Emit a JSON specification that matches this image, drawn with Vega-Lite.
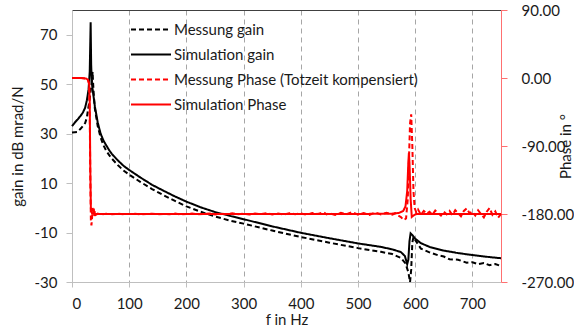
{
  "$schema": "https://vega.github.io/schema/vega-lite/v6.json",
  "width": 429,
  "height": 272,
  "autosize": {"type": "none"},
  "padding": {"left": 72, "top": 10, "right": 73, "bottom": 44},
  "background": "white",
  "config": {
    "view": {"stroke": null},
    "font": "Lato",
    "axis": {"labelFont": "Lato", "titleFont": "Lato", "labelColor": "#1a1a1a", "titleColor": "#1a1a1a", "labelFontSize": 15, "titleFontSize": 15, "titleFontWeight": "normal"},
    "legend": {
      "orient": "none", "legendX": 58, "legendY": 7, "symbolType": "stroke", "symbolSize": 1600,
      "symbolStrokeWidth": 2, "labelFontSize": 15, "labelFont": "Lato", "labelColor": "#1a1a1a",
      "labelOffset": 2, "rowPadding": 0, "clipHeight": 25, "labelLimit": 400
    }
  },
  "datasets": {
    "d": [
      {"s": "Simulation gain", "f": 0, "v": 33}, {"s": "Simulation gain", "f": 5, "v": 34.5}, {"s": "Simulation gain", "f": 10, "v": 35.8}, {"s": "Simulation gain", "f": 15, "v": 37.2}, {"s": "Simulation gain", "f": 19, "v": 38.5}, {"s": "Simulation gain", "f": 23, "v": 40.5}, {"s": "Simulation gain", "f": 26, "v": 43.5}, {"s": "Simulation gain", "f": 29, "v": 48}, {"s": "Simulation gain", "f": 31, "v": 55}, {"s": "Simulation gain", "f": 32.6, "v": 75}, {"s": "Simulation gain", "f": 33.5, "v": 58}, {"s": "Simulation gain", "f": 34.5, "v": 51}, {"s": "Simulation gain", "f": 36, "v": 48}, {"s": "Simulation gain", "f": 40, "v": 41}, {"s": "Simulation gain", "f": 45, "v": 34.5}, {"s": "Simulation gain", "f": 50, "v": 30}, {"s": "Simulation gain", "f": 55, "v": 27.2}, {"s": "Simulation gain", "f": 60, "v": 25.2}, {"s": "Simulation gain", "f": 65, "v": 23.3}, {"s": "Simulation gain", "f": 70, "v": 21.7}, {"s": "Simulation gain", "f": 80, "v": 19.2}, {"s": "Simulation gain", "f": 90, "v": 17}, {"s": "Simulation gain", "f": 100, "v": 15.3}, {"s": "Simulation gain", "f": 120, "v": 12.2}, {"s": "Simulation gain", "f": 140, "v": 9.3}, {"s": "Simulation gain", "f": 160, "v": 6.9}, {"s": "Simulation gain", "f": 180, "v": 4.6}, {"s": "Simulation gain", "f": 200, "v": 2.5}, {"s": "Simulation gain", "f": 225, "v": 0.2}, {"s": "Simulation gain", "f": 250, "v": -1.7}, {"s": "Simulation gain", "f": 275, "v": -3.2}, {"s": "Simulation gain", "f": 300, "v": -4.6}, {"s": "Simulation gain", "f": 350, "v": -7.5}, {"s": "Simulation gain", "f": 400, "v": -10.1}, {"s": "Simulation gain", "f": 450, "v": -12.3}, {"s": "Simulation gain", "f": 500, "v": -14.4}, {"s": "Simulation gain", "f": 540, "v": -15.8}, {"s": "Simulation gain", "f": 560, "v": -16.8}, {"s": "Simulation gain", "f": 575, "v": -17.9}, {"s": "Simulation gain", "f": 582, "v": -19.5}, {"s": "Simulation gain", "f": 586, "v": -22.8}, {"s": "Simulation gain", "f": 588, "v": -21}, {"s": "Simulation gain", "f": 590, "v": -13.5}, {"s": "Simulation gain", "f": 592, "v": -10.3}, {"s": "Simulation gain", "f": 595, "v": -11}, {"s": "Simulation gain", "f": 600, "v": -12.5}, {"s": "Simulation gain", "f": 610, "v": -14.3}, {"s": "Simulation gain", "f": 625, "v": -15.8}, {"s": "Simulation gain", "f": 650, "v": -17.3}, {"s": "Simulation gain", "f": 675, "v": -18.3}, {"s": "Simulation gain", "f": 700, "v": -19.1}, {"s": "Simulation gain", "f": 725, "v": -19.8}, {"s": "Simulation gain", "f": 750, "v": -20.4},

      {"s": "Messung gain", "f": 0, "v": 30.5}, {"s": "Messung gain", "f": 5, "v": 30.6}, {"s": "Messung gain", "f": 9, "v": 30.7}, {"s": "Messung gain", "f": 15, "v": 32}, {"s": "Messung gain", "f": 20, "v": 33.3}, {"s": "Messung gain", "f": 23, "v": 34.3}, {"s": "Messung gain", "f": 26, "v": 36.5}, {"s": "Messung gain", "f": 28, "v": 39.6}, {"s": "Messung gain", "f": 31, "v": 44}, {"s": "Messung gain", "f": 33, "v": 48}, {"s": "Messung gain", "f": 35, "v": 52}, {"s": "Messung gain", "f": 36, "v": 55}, {"s": "Messung gain", "f": 37, "v": 50}, {"s": "Messung gain", "f": 38, "v": 46}, {"s": "Messung gain", "f": 40, "v": 40}, {"s": "Messung gain", "f": 45, "v": 33}, {"s": "Messung gain", "f": 50, "v": 28.5}, {"s": "Messung gain", "f": 55, "v": 25.3}, {"s": "Messung gain", "f": 60, "v": 23}, {"s": "Messung gain", "f": 65, "v": 21.3}, {"s": "Messung gain", "f": 70, "v": 19.8}, {"s": "Messung gain", "f": 80, "v": 17.3}, {"s": "Messung gain", "f": 90, "v": 15.1}, {"s": "Messung gain", "f": 100, "v": 13.4}, {"s": "Messung gain", "f": 120, "v": 10.4}, {"s": "Messung gain", "f": 140, "v": 7.6}, {"s": "Messung gain", "f": 160, "v": 5.1}, {"s": "Messung gain", "f": 180, "v": 2.8}, {"s": "Messung gain", "f": 200, "v": 0.6}, {"s": "Messung gain", "f": 225, "v": -1.6}, {"s": "Messung gain", "f": 250, "v": -3.5}, {"s": "Messung gain", "f": 275, "v": -5.1}, {"s": "Messung gain", "f": 300, "v": -6.4}, {"s": "Messung gain", "f": 350, "v": -9.2}, {"s": "Messung gain", "f": 400, "v": -11.8}, {"s": "Messung gain", "f": 450, "v": -14.1}, {"s": "Messung gain", "f": 500, "v": -16.3}, {"s": "Messung gain", "f": 540, "v": -17.8}, {"s": "Messung gain", "f": 560, "v": -18.7}, {"s": "Messung gain", "f": 575, "v": -20.3}, {"s": "Messung gain", "f": 583, "v": -22.5}, {"s": "Messung gain", "f": 588, "v": -26}, {"s": "Messung gain", "f": 591, "v": -30}, {"s": "Messung gain", "f": 593, "v": -25}, {"s": "Messung gain", "f": 595, "v": -14}, {"s": "Messung gain", "f": 597, "v": -11.8}, {"s": "Messung gain", "f": 600, "v": -13}, {"s": "Messung gain", "f": 610, "v": -16.5}, {"s": "Messung gain", "f": 625, "v": -18}, {"s": "Messung gain", "f": 640, "v": -19.2}, {"s": "Messung gain", "f": 650, "v": -19.7}, {"s": "Messung gain", "f": 660, "v": -20.8}, {"s": "Messung gain", "f": 675, "v": -21}, {"s": "Messung gain", "f": 690, "v": -22.2}, {"s": "Messung gain", "f": 700, "v": -22}, {"s": "Messung gain", "f": 710, "v": -22.8}, {"s": "Messung gain", "f": 720, "v": -22.3}, {"s": "Messung gain", "f": 730, "v": -23.2}, {"s": "Messung gain", "f": 740, "v": -22.7}, {"s": "Messung gain", "f": 750, "v": -23.6},

      {"s": "Messung Phase (Totzeit kompensiert)", "f": 0, "v": 0}, {"s": "Messung Phase (Totzeit kompensiert)", "f": 10, "v": 0}, {"s": "Messung Phase (Totzeit kompensiert)", "f": 20, "v": -0.3}, {"s": "Messung Phase (Totzeit kompensiert)", "f": 25, "v": -1}, {"s": "Messung Phase (Totzeit kompensiert)", "f": 28, "v": -3}, {"s": "Messung Phase (Totzeit kompensiert)", "f": 30, "v": -8}, {"s": "Messung Phase (Totzeit kompensiert)", "f": 31, "v": -50}, {"s": "Messung Phase (Totzeit kompensiert)", "f": 32, "v": -130}, {"s": "Messung Phase (Totzeit kompensiert)", "f": 33, "v": -188}, {"s": "Messung Phase (Totzeit kompensiert)", "f": 34, "v": -195}, {"s": "Messung Phase (Totzeit kompensiert)", "f": 35, "v": -186}, {"s": "Messung Phase (Totzeit kompensiert)", "f": 36, "v": -172}, {"s": "Messung Phase (Totzeit kompensiert)", "f": 37, "v": -179}, {"s": "Messung Phase (Totzeit kompensiert)", "f": 38, "v": -171}, {"s": "Messung Phase (Totzeit kompensiert)", "f": 39, "v": -183}, {"s": "Messung Phase (Totzeit kompensiert)", "f": 40, "v": -176}, {"s": "Messung Phase (Totzeit kompensiert)", "f": 42, "v": -181}, {"s": "Messung Phase (Totzeit kompensiert)", "f": 45, "v": -179.5}, {"s": "Messung Phase (Totzeit kompensiert)", "f": 50, "v": -180.5}, {"s": "Messung Phase (Totzeit kompensiert)", "f": 60, "v": -179.8}, {"s": "Messung Phase (Totzeit kompensiert)", "f": 70, "v": -180.3}, {"s": "Messung Phase (Totzeit kompensiert)", "f": 80, "v": -179.7}, {"s": "Messung Phase (Totzeit kompensiert)", "f": 90, "v": -180.2}, {"s": "Messung Phase (Totzeit kompensiert)", "f": 100, "v": -180}, {"s": "Messung Phase (Totzeit kompensiert)", "f": 110, "v": -179.6}, {"s": "Messung Phase (Totzeit kompensiert)", "f": 120, "v": -180.4}, {"s": "Messung Phase (Totzeit kompensiert)", "f": 130, "v": -180}, {"s": "Messung Phase (Totzeit kompensiert)", "f": 140, "v": -179.7}, {"s": "Messung Phase (Totzeit kompensiert)", "f": 150, "v": -180.3}, {"s": "Messung Phase (Totzeit kompensiert)", "f": 160, "v": -179.9}, {"s": "Messung Phase (Totzeit kompensiert)", "f": 170, "v": -180.2}, {"s": "Messung Phase (Totzeit kompensiert)", "f": 180, "v": -179.5}, {"s": "Messung Phase (Totzeit kompensiert)", "f": 190, "v": -180.4}, {"s": "Messung Phase (Totzeit kompensiert)", "f": 200, "v": -180}, {"s": "Messung Phase (Totzeit kompensiert)", "f": 210, "v": -179.4}, {"s": "Messung Phase (Totzeit kompensiert)", "f": 220, "v": -180.5}, {"s": "Messung Phase (Totzeit kompensiert)", "f": 230, "v": -179.8}, {"s": "Messung Phase (Totzeit kompensiert)", "f": 240, "v": -179.2}, {"s": "Messung Phase (Totzeit kompensiert)", "f": 250, "v": -180.6}, {"s": "Messung Phase (Totzeit kompensiert)", "f": 260, "v": -179.5}, {"s": "Messung Phase (Totzeit kompensiert)", "f": 270, "v": -180.2}, {"s": "Messung Phase (Totzeit kompensiert)", "f": 280, "v": -179.1}, {"s": "Messung Phase (Totzeit kompensiert)", "f": 290, "v": -180.4}, {"s": "Messung Phase (Totzeit kompensiert)", "f": 300, "v": -179.6}, {"s": "Messung Phase (Totzeit kompensiert)", "f": 310, "v": -180.7}, {"s": "Messung Phase (Totzeit kompensiert)", "f": 320, "v": -179.2}, {"s": "Messung Phase (Totzeit kompensiert)", "f": 330, "v": -180.3}, {"s": "Messung Phase (Totzeit kompensiert)", "f": 340, "v": -178.9}, {"s": "Messung Phase (Totzeit kompensiert)", "f": 350, "v": -180.5}, {"s": "Messung Phase (Totzeit kompensiert)", "f": 360, "v": -179.4}, {"s": "Messung Phase (Totzeit kompensiert)", "f": 370, "v": -180.8}, {"s": "Messung Phase (Totzeit kompensiert)", "f": 380, "v": -179}, {"s": "Messung Phase (Totzeit kompensiert)", "f": 390, "v": -180.2}, {"s": "Messung Phase (Totzeit kompensiert)", "f": 400, "v": -179.3}, {"s": "Messung Phase (Totzeit kompensiert)", "f": 410, "v": -181}, {"s": "Messung Phase (Totzeit kompensiert)", "f": 420, "v": -178.8}, {"s": "Messung Phase (Totzeit kompensiert)", "f": 430, "v": -180.1}, {"s": "Messung Phase (Totzeit kompensiert)", "f": 440, "v": -177.8}, {"s": "Messung Phase (Totzeit kompensiert)", "f": 445, "v": -180.5}, {"s": "Messung Phase (Totzeit kompensiert)", "f": 450, "v": -179}, {"s": "Messung Phase (Totzeit kompensiert)", "f": 460, "v": -181.2}, {"s": "Messung Phase (Totzeit kompensiert)", "f": 470, "v": -178.5}, {"s": "Messung Phase (Totzeit kompensiert)", "f": 480, "v": -180.4}, {"s": "Messung Phase (Totzeit kompensiert)", "f": 490, "v": -177.5}, {"s": "Messung Phase (Totzeit kompensiert)", "f": 500, "v": -180.8}, {"s": "Messung Phase (Totzeit kompensiert)", "f": 510, "v": -178.6}, {"s": "Messung Phase (Totzeit kompensiert)", "f": 520, "v": -181.3}, {"s": "Messung Phase (Totzeit kompensiert)", "f": 530, "v": -177.9}, {"s": "Messung Phase (Totzeit kompensiert)", "f": 540, "v": -180.6}, {"s": "Messung Phase (Totzeit kompensiert)", "f": 550, "v": -178.4}, {"s": "Messung Phase (Totzeit kompensiert)", "f": 560, "v": -181}, {"s": "Messung Phase (Totzeit kompensiert)", "f": 565, "v": -179}, {"s": "Messung Phase (Totzeit kompensiert)", "f": 570, "v": -182}, {"s": "Messung Phase (Totzeit kompensiert)", "f": 575, "v": -184}, {"s": "Messung Phase (Totzeit kompensiert)", "f": 580, "v": -188}, {"s": "Messung Phase (Totzeit kompensiert)", "f": 584, "v": -186}, {"s": "Messung Phase (Totzeit kompensiert)", "f": 587, "v": -160}, {"s": "Messung Phase (Totzeit kompensiert)", "f": 589, "v": -110}, {"s": "Messung Phase (Totzeit kompensiert)", "f": 591, "v": -60}, {"s": "Messung Phase (Totzeit kompensiert)", "f": 593, "v": -48}, {"s": "Messung Phase (Totzeit kompensiert)", "f": 595, "v": -90}, {"s": "Messung Phase (Totzeit kompensiert)", "f": 597, "v": -150}, {"s": "Messung Phase (Totzeit kompensiert)", "f": 599, "v": -172}, {"s": "Messung Phase (Totzeit kompensiert)", "f": 602, "v": -178}, {"s": "Messung Phase (Totzeit kompensiert)", "f": 605, "v": -174}, {"s": "Messung Phase (Totzeit kompensiert)", "f": 610, "v": -181}, {"s": "Messung Phase (Totzeit kompensiert)", "f": 615, "v": -176}, {"s": "Messung Phase (Totzeit kompensiert)", "f": 620, "v": -179.5}, {"s": "Messung Phase (Totzeit kompensiert)", "f": 625, "v": -177}, {"s": "Messung Phase (Totzeit kompensiert)", "f": 630, "v": -181}, {"s": "Messung Phase (Totzeit kompensiert)", "f": 635, "v": -175.5}, {"s": "Messung Phase (Totzeit kompensiert)", "f": 640, "v": -179}, {"s": "Messung Phase (Totzeit kompensiert)", "f": 645, "v": -182}, {"s": "Messung Phase (Totzeit kompensiert)", "f": 650, "v": -177}, {"s": "Messung Phase (Totzeit kompensiert)", "f": 655, "v": -180.5}, {"s": "Messung Phase (Totzeit kompensiert)", "f": 660, "v": -176}, {"s": "Messung Phase (Totzeit kompensiert)", "f": 665, "v": -181.5}, {"s": "Messung Phase (Totzeit kompensiert)", "f": 670, "v": -175}, {"s": "Messung Phase (Totzeit kompensiert)", "f": 675, "v": -179}, {"s": "Messung Phase (Totzeit kompensiert)", "f": 680, "v": -183}, {"s": "Messung Phase (Totzeit kompensiert)", "f": 685, "v": -176}, {"s": "Messung Phase (Totzeit kompensiert)", "f": 690, "v": -172.5}, {"s": "Messung Phase (Totzeit kompensiert)", "f": 695, "v": -179}, {"s": "Messung Phase (Totzeit kompensiert)", "f": 700, "v": -177}, {"s": "Messung Phase (Totzeit kompensiert)", "f": 705, "v": -182}, {"s": "Messung Phase (Totzeit kompensiert)", "f": 710, "v": -175}, {"s": "Messung Phase (Totzeit kompensiert)", "f": 715, "v": -180}, {"s": "Messung Phase (Totzeit kompensiert)", "f": 720, "v": -184.5}, {"s": "Messung Phase (Totzeit kompensiert)", "f": 725, "v": -177}, {"s": "Messung Phase (Totzeit kompensiert)", "f": 730, "v": -172}, {"s": "Messung Phase (Totzeit kompensiert)", "f": 735, "v": -181}, {"s": "Messung Phase (Totzeit kompensiert)", "f": 740, "v": -176.5}, {"s": "Messung Phase (Totzeit kompensiert)", "f": 745, "v": -185}, {"s": "Messung Phase (Totzeit kompensiert)", "f": 750, "v": -180},

      {"s": "Simulation Phase", "f": 0, "v": 0}, {"s": "Simulation Phase", "f": 10, "v": 0}, {"s": "Simulation Phase", "f": 20, "v": -0.2}, {"s": "Simulation Phase", "f": 25, "v": -0.8}, {"s": "Simulation Phase", "f": 28, "v": -2.5}, {"s": "Simulation Phase", "f": 30, "v": -8}, {"s": "Simulation Phase", "f": 31, "v": -30}, {"s": "Simulation Phase", "f": 32, "v": -120}, {"s": "Simulation Phase", "f": 33, "v": -172}, {"s": "Simulation Phase", "f": 35, "v": -179}, {"s": "Simulation Phase", "f": 40, "v": -180}, {"s": "Simulation Phase", "f": 100, "v": -180}, {"s": "Simulation Phase", "f": 200, "v": -180}, {"s": "Simulation Phase", "f": 300, "v": -180}, {"s": "Simulation Phase", "f": 400, "v": -180}, {"s": "Simulation Phase", "f": 500, "v": -180}, {"s": "Simulation Phase", "f": 560, "v": -179.5}, {"s": "Simulation Phase", "f": 572, "v": -178.5}, {"s": "Simulation Phase", "f": 579, "v": -176}, {"s": "Simulation Phase", "f": 583, "v": -170}, {"s": "Simulation Phase", "f": 586, "v": -150}, {"s": "Simulation Phase", "f": 588, "v": -112}, {"s": "Simulation Phase", "f": 589, "v": -99}, {"s": "Simulation Phase", "f": 590, "v": -112}, {"s": "Simulation Phase", "f": 592, "v": -160}, {"s": "Simulation Phase", "f": 594, "v": -184}, {"s": "Simulation Phase", "f": 597, "v": -182}, {"s": "Simulation Phase", "f": 602, "v": -180}, {"s": "Simulation Phase", "f": 700, "v": -180}, {"s": "Simulation Phase", "f": 750, "v": -180}
    ]
  },
  "data": {"name": "d"},
  "encoding": {
    "color": {
      "field": "s", "type": "nominal", "title": null,
      "scale": {"domain": ["Messung gain", "Simulation gain", "Messung Phase (Totzeit kompensiert)", "Simulation Phase"], "range": ["#000000", "#000000", "#ff0000", "#ff0000"]}
    },
    "strokeDash": {
      "field": "s", "type": "nominal", "title": null,
      "scale": {"domain": ["Messung gain", "Simulation gain", "Messung Phase (Totzeit kompensiert)", "Simulation Phase"], "range": [[5, 3], [1, 0], [5, 3], [1, 0]]}
    }
  },
  "layer": [
    {
      "transform": [{"filter": {"field": "s", "oneOf": ["Messung gain", "Simulation gain"]}}],
      "mark": {"type": "line", "strokeWidth": 2},
      "encoding": {
        "x": {
          "field": "f", "type": "quantitative", "scale": {"domain": [0, 750], "nice": false},
          "axis": {"orient": "bottom", "values": [0, 100, 200, 300, 400, 500, 600, 700], "grid": true, "gridDash": [5, 4], "gridColor": "#a6a6a6", "gridWidth": 1, "domainColor": "#bfbfbf", "tickColor": "#bfbfbf", "tickSize": 5, "labelPadding": 9, "title": "f in Hz", "titlePadding": 1}
        },
        "y": {
          "field": "v", "type": "quantitative", "scale": {"domain": [-30, 80], "nice": false, "zero": false},
          "axis": {"orient": "left", "values": [-30, -10, 10, 30, 50, 70], "labelExpr": "replace(datum.label, '−', '-')", "grid": false, "domainColor": "#bfbfbf", "tickColor": "#bfbfbf", "tickSize": 6, "labelPadding": 9, "title": "gain in dB mrad/N", "titleX": -50, "titleBaseline": "alphabetic"}
        }
      }
    },
    {
      "transform": [{"filter": {"field": "s", "oneOf": ["Messung Phase (Totzeit kompensiert)", "Simulation Phase"]}}],
      "mark": {"type": "line", "strokeWidth": 2},
      "encoding": {
        "x": {
          "field": "f", "type": "quantitative", "scale": {"domain": [0, 750], "nice": false},
          "axis": {"orient": "top", "labels": false, "ticks": false, "grid": false, "domainColor": "#404040", "title": null}
        },
        "y": {
          "field": "v", "type": "quantitative", "scale": {"domain": [-270, 90], "nice": false, "zero": false},
          "axis": {"orient": "right", "values": [-270, -180, -90, 0, 90], "format": ".2f", "labelExpr": "replace(datum.label, '−', '-')", "grid": false, "domainColor": "#ff7070", "tickColor": "#ff7070", "tickSize": 6, "labelPadding": 14, "title": "Phase in °", "titleAngle": 270, "titleX": 69, "titleBaseline": "alphabetic"}
        }
      }
    }
  ],
  "resolve": {"scale": {"y": "independent"}, "axis": {"x": "independent", "y": "independent"}}
}
